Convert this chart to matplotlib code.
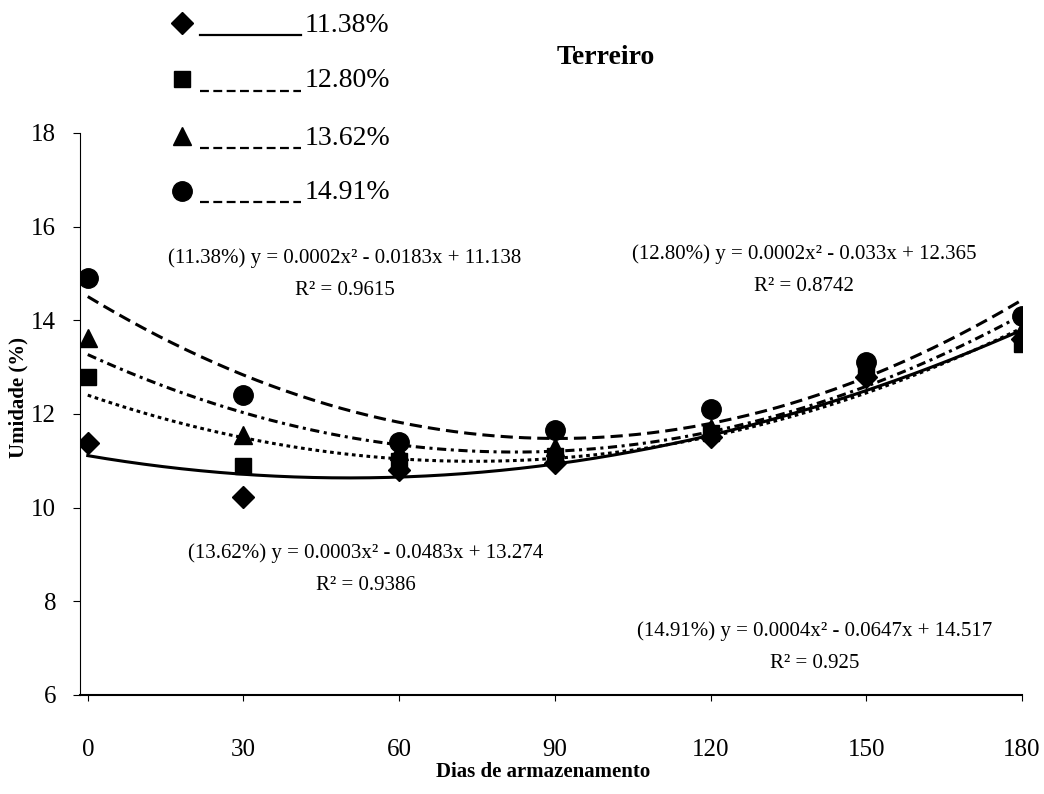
import matplotlib
matplotlib.use("Agg")
import matplotlib.pyplot as plt
from matplotlib.lines import Line2D
import numpy as np

plt.rcParams["font.family"] = ["Liberation Serif", "DejaVu Serif"]

# Data
dias = [0, 30, 60, 90, 120, 150, 180]
u_1138 = [11.38, 10.22, 10.80, 10.95, 11.50, 12.80, 13.60]
u_1280 = [12.80, 10.90, 11.00, 11.10, 11.60, 12.90, 13.50]
u_1362 = [13.62, 11.55, 11.20, 11.30, 11.70, 13.00, 13.80]
u_1491 = [14.91, 12.40, 11.40, 11.65, 12.10, 13.10, 14.10]

rotulos = ["11.38%", "12.80%", "13.62%", "14.91%"]
equacoes = [
    "(11.38%) y = 0.0002x² - 0.0183x + 11.138\nR² = 0.9615",
    "(12.80%) y = 0.0002x² - 0.033x + 12.365\nR² = 0.8742",
    "(13.62%) y = 0.0003x² - 0.0483x + 13.274\nR² = 0.9386",
    "(14.91%) y = 0.0004x² - 0.0647x + 14.517\nR² = 0.925",
]

series = [u_1138, u_1280, u_1362, u_1491]
marcadores = ["D", "s", "^", "o"]
estilos = ["-", (0, (1.2, 1.2)), (0, (3, 1.5, 1, 1.5)), (0, (4, 2))]
tamanhos = [11, 12, 13, 14]

fig = plt.figure(figsize=(10.44, 7.94), dpi=100)
ax = fig.add_axes([0.0766, 0.1247, 0.9024, 0.7078])

xs = np.linspace(0, 180, 200)
for y, m, ls, ms in zip(series, marcadores, estilos, tamanhos):
    coef = np.polyfit(dias, y, 2)
    ax.plot(xs, np.polyval(coef, xs), color="black", lw=2.2, linestyle=ls)
    ax.plot(dias, y, linestyle="none", marker=m, color="black", markersize=ms)

ax.set_xlim(-1.5, 180)
ax.set_ylim(6, 18)
ax.set_xticks(range(0, 181, 30))
ax.set_yticks(range(6, 19, 2))
ax.spines["top"].set_visible(False)
ax.spines["right"].set_visible(False)
ax.spines["left"].set_linewidth(0.8)
ax.spines["bottom"].set_linewidth(1.5)
ax.tick_params(axis="y", direction="out", length=5, pad=12, labelsize=18)
ax.tick_params(axis="x", direction="out", length=4, pad=28, labelsize=18)

fig.text(0.52, 0.028, "Dias de armazenamento", fontsize=15, fontweight="bold",
         ha="center", va="center")
fig.text(0.018, 0.50, "Umidade (%)", fontsize=15, fontweight="bold",
         ha="center", va="center", rotation=90)
fig.text(0.58, 0.928, "Terreiro", fontsize=20, fontweight="bold", ha="center", va="center")

# equations
pos_eq = [(0.33, 0.655), (0.77, 0.66), (0.35, 0.283), (0.78, 0.185)]
for (px, py), txt in zip(pos_eq, equacoes):
    fig.text(px, py, txt, fontsize=15, ha="center", va="center", linespacing=1.9)

# legend drawn by hand: marker, line, label
ys_leg = [0.968, 0.898, 0.826, 0.757]
for yl, m, ls, ms, lab in zip(ys_leg, marcadores, estilos, tamanhos, rotulos):
    fig.add_artist(Line2D([0.174], [yl + 0.003], marker=m, color="black",
                          markersize=ms, linestyle="none", transform=fig.transFigure))
    fig.add_artist(Line2D([0.192, 0.288], [yl - 0.012, yl - 0.012], color="black", lw=1.6,
                          linestyle="-" if ls == "-" else (0, (4, 2)), transform=fig.transFigure))
    fig.text(0.292, yl, lab, fontsize=20, ha="left", va="center")

fig.savefig("out.png", dpi=100)
